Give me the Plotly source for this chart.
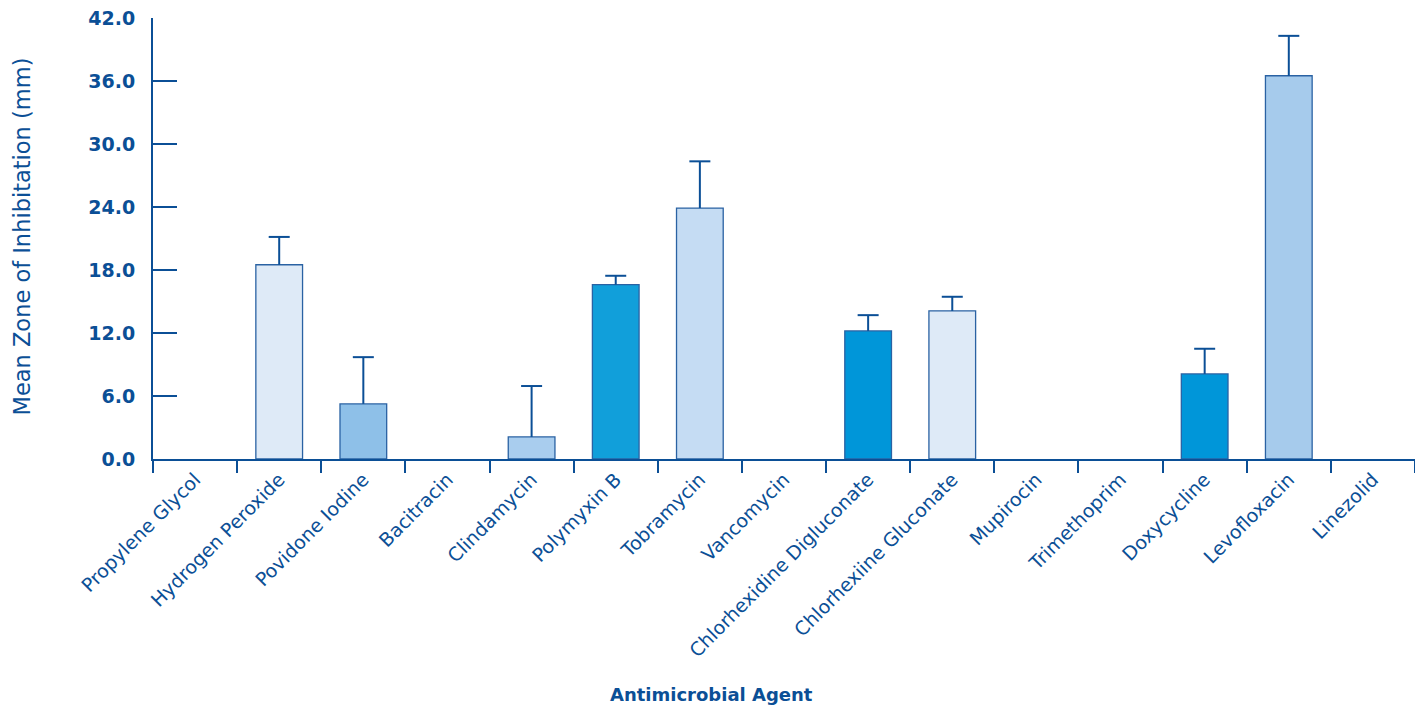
import plotly.graph_objects as go

agents = ["Propylene Glycol", "Hydrogen Peroxide", "Povidone Iodine", "Bacitracin",
          "Clindamycin", "Polymyxin B", "Tobramycin", "Vancomycin",
          "Chlorhexidine Digluconate", "Chlorhexiine Gluconate", "Mupirocin",
          "Trimethoprim", "Doxycycline", "Levofloxacin", "Linezolid"]
mean_zone = [0, 18.5, 5.25, 0, 2.1, 16.6, 23.9, 0, 12.2, 14.1, 0, 0, 8.1, 36.5, 0]
std_dev = [0, 2.65, 4.45, 0, 4.85, 0.85, 4.45, 0, 1.5, 1.35, 0, 0, 2.4, 3.8, 0]
bar_colors = ["#ffffff", "#deeaf7", "#8ec0e8", "#ffffff", "#a9cdee", "#119fda",
              "#c5dcf3", "#ffffff", "#0096d9", "#deeaf7", "#ffffff", "#ffffff",
              "#0096d9", "#a6cbec", "#ffffff"]
y_ticks = [0, 6, 12, 18, 24, 30, 36, 42]

DARK = "#0b4f96"
FONT = "DejaVu Sans"

line_widths = [1.3 if v > 0 else 0 for v in mean_zone]

fig = go.Figure(go.Bar(
    x=agents, y=mean_zone,
    width=0.555,
    marker=dict(color=bar_colors, line=dict(color="#2a62a3", width=line_widths)),
    hoverinfo="x+y",
))

# upper error bars (stem + cap), only for bars with a value
stem_x, stem_y, cap_x, cap_y = [], [], [], []
for a, m, s in zip(agents, mean_zone, std_dev):
    if m > 0 and s > 0:
        stem_x += [a, a, None]
        stem_y += [m, m + s, None]
        cap_x.append(a)
        cap_y.append(m + s)

fig.add_trace(go.Scatter(x=stem_x, y=stem_y, mode="lines",
                         line=dict(color=DARK, width=2), hoverinfo="skip"))
fig.add_trace(go.Scatter(x=cap_x, y=cap_y, mode="markers",
                         marker=dict(symbol="line-ew-open", size=15, color=DARK,
                                     line=dict(color=DARK, width=2)),
                         hoverinfo="skip"))

# page body has an 8px margin, so figure coordinates are shifted by 8px
OFF = 8
W, H = 1423 - OFF, 706 - OFF
L, R, T, B = 153 - OFF, 1415 - OFF, 18 - OFF, 459 - OFF

fig.update_layout(
    width=W, height=H,
    margin=dict(l=L, r=W - R, t=T, b=H - B),
    paper_bgcolor="white", plot_bgcolor="white",
    showlegend=False,
    font=dict(family=FONT, color=DARK),
    xaxis=dict(
        type="category", categoryorder="array", categoryarray=agents,
        tickson="boundaries", ticks="outside", ticklen=12,
        tickwidth=2, tickcolor=DARK, showline=True, linecolor=DARK, linewidth=2,
        tickangle=-45, tickfont=dict(size=19, color=DARK, family=FONT),
        showgrid=False, zeroline=False, automargin=False, ticklabeloverflow="allow",
    ),
    yaxis=dict(
        range=[0, 42], tickvals=y_ticks, ticktext=[f"{v:.1f}" for v in y_ticks],
        ticks="inside", ticklen=24, tickwidth=2, tickcolor=DARK,
        showline=True, linecolor=DARK, linewidth=2, showgrid=False, zeroline=False,
        tickfont=dict(size=19, color=DARK, family=FONT, weight="bold"),
        ticklabelstandoff=12, automargin=False, ticklabeloverflow="allow",
    ),
    annotations=[
        dict(text="<b>Antimicrobial Agent</b>", xref="paper", yref="paper",
             x=(711.5 - OFF - L) / (R - L), y=-(694 - OFF - B) / (B - T),
             xanchor="center", yanchor="middle", showarrow=False,
             font=dict(size=18, color=DARK, family=FONT)),
        dict(text="Mean Zone of Inhibitation (mm)", xref="paper", yref="paper",
             x=-(L - (21 - OFF)) / (R - L), y=(B - (236.5 - OFF)) / (B - T), textangle=-90,
             xanchor="center", yanchor="middle", showarrow=False,
             font=dict(size=22.5, color=DARK, family=FONT)),
    ],
)

fig.write_html("out.html")
